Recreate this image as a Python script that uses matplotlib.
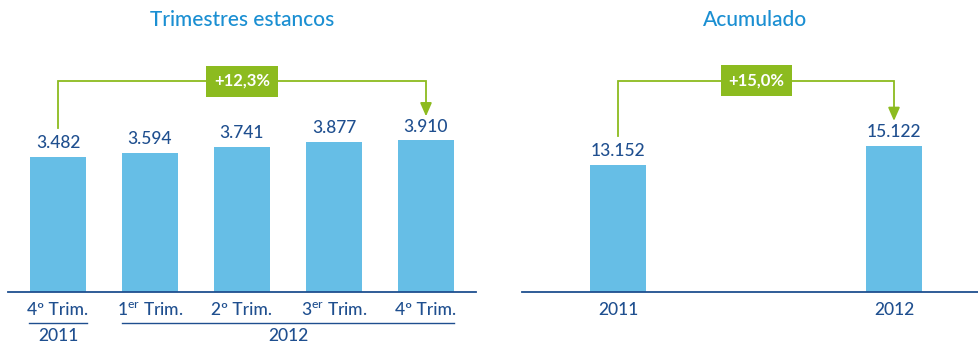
import matplotlib
matplotlib.use("Agg")
import matplotlib.pyplot as plt

plt.rcParams['font.family'] = ['Lato', 'DejaVu Sans']
plt.rcParams['mathtext.fontset'] = 'custom'
plt.rcParams['mathtext.rm'] = 'Lato'

# ---- data ----
q_labels = ["4º Trim.", r"1$^{\mathregular{er}}$ Trim.", "2º Trim.",
            r"3$^{\mathregular{er}}$ Trim.", "4º Trim."]
q_values = [3482, 3594, 3741, 3877, 3910]
q_years = ["2011", "2012"]
q_change = "+12,3%"

a_labels = ["2011", "2012"]
a_values = [13152, 15122]
a_change = "+15,0%"

titles = ["Trimestres estancos", "Acumulado"]

# ---- style ----
BAR = "#66bee6"
DARK = "#1f4f8f"
TITLE = "#1b8fd2"
GREEN = "#8cbb1f"
FS = 12.5
WT = "medium"

W, H = 979, 345
fig = plt.figure(figsize=(W / 100, H / 100), dpi=100)

base_px = 292  # baseline from top


def make_ax(x0, x1):
    return fig.add_axes([x0 / W, (H - base_px) / H, (x1 - x0) / W, base_px / H])


def fmt(v):
    return f"{v:,}".replace(",", ".")


def style(ax):
    for s in ["top", "right", "left"]:
        ax.spines[s].set_visible(False)
    ax.spines["bottom"].set_color(DARK)
    ax.spines["bottom"].set_linewidth(1.3)
    ax.set_xticks([])
    ax.set_yticks([])
    ax.patch.set_alpha(0)


def bracket(ax, i0, i1, v0, v1, ppu, start_off, tip_off, top_px, text):
    y0 = v0 + start_off / ppu
    y1 = v1 + tip_off / ppu
    ytop = (base_px - top_px) / ppu
    ax.plot([i0, i0, i1, i1], [y0, ytop, ytop, y1 + 9 / ppu], color=GREEN,
            lw=1.3, clip_on=False, solid_joinstyle='miter')
    ax.annotate("", xy=(i1, y1), xytext=(i1, y1 + 10 / ppu),
                arrowprops=dict(arrowstyle="-|>,head_width=0.35,head_length=0.8",
                                color=GREEN, lw=1.3, shrinkA=0, shrinkB=0),
                annotation_clip=False)
    xm = (i0 + i1) / 2
    ax.text(xm, ytop, text, ha="center", va="center", color="white",
            fontsize=12, fontweight="bold",
            bbox=dict(boxstyle="square,pad=0.45", fc=GREEN, ec="none"))


# ---- left panel ----
axL = make_ax(8, 476)
sp = 92
axL.set_xlim((8 - 58) / sp, (476 - 58) / sp)
ymaxL = 7526
axL.set_ylim(0, ymaxL)
ppuL = base_px / ymaxL
xs = list(range(len(q_values)))
axL.bar(xs, q_values, width=56 / sp, color=BAR)
style(axL)
for x, v in zip(xs, q_values):
    axL.annotate(fmt(v), (x, v), xytext=(0, 4), textcoords="offset points",
                 ha="center", va="bottom", color=DARK, fontsize=FS, fontweight=WT)
for x, lab in zip(xs, q_labels):
    axL.annotate(lab, (x, 0), xytext=(0, -18 * 0.72), textcoords="offset points",
                 ha="center", va="center", color=DARK, fontsize=FS, fontweight=WT,
                 annotation_clip=False)
yl = -31 / ppuL
axL.plot([0 - 29 / sp, 0 + 29 / sp], [yl, yl], color=DARK, lw=1.0, clip_on=False)
axL.plot([1 - 28 / sp, 4 + 28 / sp], [yl, yl], color=DARK, lw=1.0, clip_on=False)
yy = -44 / ppuL
axL.text(0, yy, q_years[0], ha="center", va="center", color=DARK, fontsize=FS,
         fontweight=WT)
axL.text(2.5, yy, q_years[1], ha="center", va="center", color=DARK, fontsize=FS,
         fontweight=WT)
axL.text(2.0, (base_px - 20) / ppuL, titles[0], ha="center", va="center",
         color=TITLE, fontsize=15, fontweight=WT)
bracket(axL, 0, 4, q_values[0], q_values[4], ppuL, 29, 24, 81, q_change)

# ---- right panel ----
axR = make_ax(522, 979)
spR = 276
axR.set_xlim((522 - 618) / spR, (979 - 618) / spR)
ymaxR = 30228
axR.set_ylim(0, ymaxR)
ppuR = base_px / ymaxR
xr = list(range(len(a_values)))
axR.bar(xr, a_values, width=56 / spR, color=BAR)
style(axR)
for x, v in zip(xr, a_values):
    axR.annotate(fmt(v), (x, v), xytext=(0, 4), textcoords="offset points",
                 ha="center", va="bottom", color=DARK, fontsize=FS, fontweight=WT)
for x, lab in zip(xr, a_labels):
    axR.annotate(lab, (x, 0), xytext=(0, -18 * 0.72), textcoords="offset points",
                 ha="center", va="center", color=DARK, fontsize=FS, fontweight=WT,
                 annotation_clip=False)
axR.text((755 - 618) / spR, (base_px - 20) / ppuR, titles[1], ha="center",
         va="center", color=TITLE, fontsize=15, fontweight=WT)
bracket(axR, 0, 1, a_values[0], a_values[1], ppuR, 29, 25, 81, a_change)

fig.savefig("out.png", dpi=100)
